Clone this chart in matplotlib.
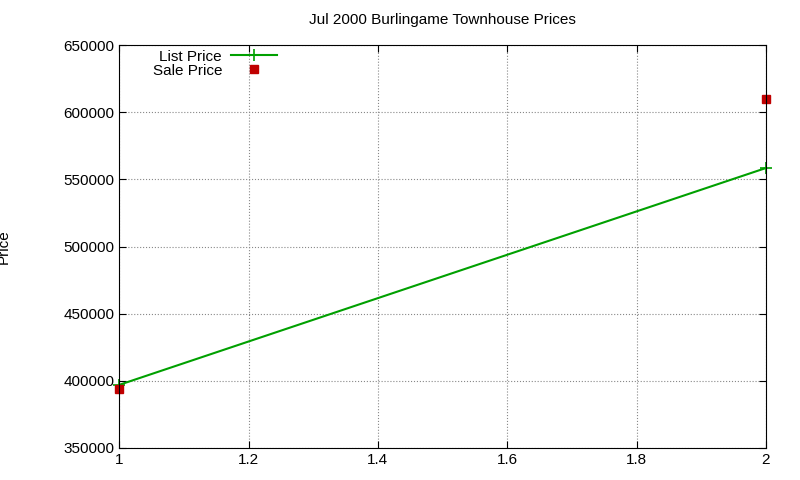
import matplotlib
matplotlib.use("Agg")
import matplotlib.pyplot as plt

x = [1, 2]
list_price = [397000, 558500]
sale_price = [394000, 610000]
xticks = [1, 1.2, 1.4, 1.6, 1.8, 2]
yticks = [350000, 400000, 450000, 500000, 550000, 600000, 650000]

plt.rcParams['font.family'] = ['Liberation Sans', 'DejaVu Sans']
fig = plt.figure(figsize=(8, 4.8), dpi=100)
ax = fig.add_axes([0.149, 0.0667, 0.8085, 0.8393])
ax.plot(x, list_price, color='#00a000', lw=1.5, marker='+', ms=8, mew=1.2, label='List Price', clip_on=False)
ax.plot(x, sale_price, ls='none', color='#c00000', marker='s', ms=6, label='Sale Price', clip_on=False)
ax.set_xlim(1, 2)
ax.set_ylim(350000, 650000)
ax.set_xticks(xticks)
ax.set_xticklabels([f"{t:g}" for t in xticks])
ax.set_yticks(yticks)
ax.set_yticklabels([str(t) for t in yticks])
ax.tick_params(direction='in', top=True, right=True, labelsize=11, length=5)
ax.grid(True, ls=':', color='#888888', lw=0.8)
ax.set_ylabel('Price', fontsize=11, labelpad=38)
ax.set_title('Jul 2000 Burlingame Townhouse Prices', fontsize=11, pad=15)
ax.legend(loc='upper left', bbox_to_anchor=(0.035, 1.015), frameon=False, markerfirst=False,
          fontsize=11, handlelength=3.0, borderaxespad=0.3, labelspacing=0.0, handletextpad=0.6)
fig.savefig('out.png', dpi=100)
